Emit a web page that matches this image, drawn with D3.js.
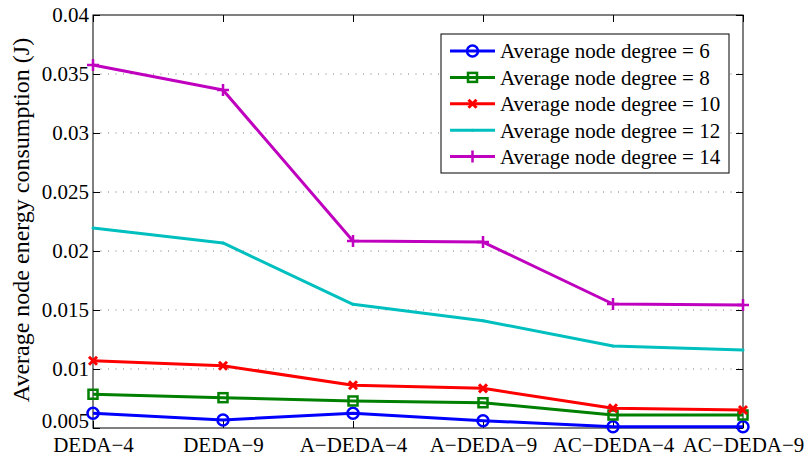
<!DOCTYPE html>
<html>
<head>
<meta charset="utf-8">
<script src="https://cdn.jsdelivr.net/npm/d3@7"></script>
<style>
  body { margin: 0; background: #fff; }
</style>
</head>
<body>
<svg id="chart" width="806" height="457" font-family="Liberation Serif"></svg>
<script>
// 類別與資料
const categories = ["DEDA−4", "DEDA−9", "A−DEDA−4", "A−DEDA−9", "AC−DEDA−4", "AC−DEDA−9"];
const deg6  = [0.00625, 0.00568, 0.00625, 0.00562, 0.00511, 0.00511];
const deg8  = [0.00786, 0.00757, 0.00729, 0.00714, 0.00610, 0.00610];
const deg10 = [0.01070, 0.01028, 0.00862, 0.00836, 0.00667, 0.00653];
const deg12 = [0.02195, 0.02068, 0.01548, 0.01409, 0.01195, 0.01161];
const deg14 = [0.03576, 0.03364, 0.02085, 0.02076, 0.01551, 0.01542];
const yTicks = [0.005, 0.01, 0.015, 0.02, 0.025, 0.03, 0.035, 0.04];
const yTickLabels = ["0.005", "0.01", "0.015", "0.02", "0.025", "0.03", "0.035", "0.04"];

const series = [
  { name: "Average node degree = 6",  values: deg6,  color: "#0000ff", marker: "circle" },
  { name: "Average node degree = 8",  values: deg8,  color: "#008000", marker: "square" },
  { name: "Average node degree = 10", values: deg10, color: "#ff0000", marker: "x" },
  { name: "Average node degree = 12", values: deg12, color: "#00bfbf", marker: "dot" },
  { name: "Average node degree = 14", values: deg14, color: "#bf00bf", marker: "plus" }
];

const svg = d3.select("#chart");
const FONT = "Liberation Serif";
const plotLeft = 93, plotRight = 743, plotTop = 15, plotBottom = 428;

const x = d3.scalePoint().domain(categories).range([plotLeft, plotRight]);
const y = d3.scaleLinear().domain([0.005, 0.04]).range([plotBottom, plotTop]);

// 格線 (虛點)
svg.append("g").selectAll("line")
  .data(yTicks.slice(1, -1))
  .enter().append("line")
  .attr("x1", plotLeft).attr("x2", plotRight)
  .attr("y1", d => y(d)).attr("y2", d => y(d))
  .attr("stroke", "#777").attr("stroke-width", 1)
  .attr("stroke-dasharray", "1,6.5");

// 軸
const gyl = svg.append("g").attr("transform", `translate(${plotLeft},0)`)
  .call(d3.axisLeft(y).tickValues(yTicks).tickSize(-7).tickPadding(4)
    .tickFormat((d, i) => yTickLabels[i]));
const gyr = svg.append("g").attr("transform", `translate(${plotRight},0)`)
  .call(d3.axisRight(y).tickValues(yTicks).tickSize(-7).tickFormat(""));
const gxb = svg.append("g").attr("transform", `translate(0,${plotBottom})`)
  .call(d3.axisBottom(x).tickSize(-7));
const gxt = svg.append("g").attr("transform", `translate(0,${plotTop})`)
  .call(d3.axisTop(x).tickSize(-7).tickFormat(""));

[gyl, gyr, gxb, gxt].forEach(g => {
  g.attr("font-family", FONT).attr("font-size", 21);
  g.select(".domain").remove();
  g.selectAll(".tick line").attr("stroke", "#000").attr("stroke-width", 1);
  g.selectAll("text").attr("fill", "#000");
});
gxb.selectAll("text").attr("y", 24).attr("dy", 0);
// 最下方的 0.005 標籤往上移，避免和 x 標籤重疊
gyl.selectAll(".tick text").filter(d => d === 0.005).attr("dy", 0).attr("y", -1);

// 外框
svg.append("rect")
  .attr("x", plotLeft).attr("y", plotTop)
  .attr("width", plotRight - plotLeft).attr("height", plotBottom - plotTop)
  .attr("fill", "none").attr("stroke", "#000").attr("stroke-width", 1);

// Y 軸標題
svg.append("text")
  .attr("transform", "translate(29,220) rotate(-90)")
  .attr("text-anchor", "middle")
  .attr("font-family", FONT)
  .attr("font-size", 24)
  .text("Average node energy consumption (J)");

// 畫標記
function drawMarker(g, type, color, cx, cy) {
  if (type === "circle") {
    g.append("circle").attr("cx", cx).attr("cy", cy).attr("r", 5.5)
      .attr("fill", "none").attr("stroke", color).attr("stroke-width", 2.5);
  } else if (type === "square") {
    g.append("rect").attr("x", cx - 4.5).attr("y", cy - 4.5).attr("width", 9).attr("height", 9)
      .attr("fill", "none").attr("stroke", color).attr("stroke-width", 2.5);
  } else if (type === "x") {
    const s = 4;
    g.append("path").attr("d", `M${cx - s},${cy - s}L${cx + s},${cy + s}M${cx - s},${cy + s}L${cx + s},${cy - s}`)
      .attr("stroke", color).attr("stroke-width", 3);
  } else if (type === "plus") {
    const s = 6;
    g.append("path").attr("d", `M${cx - s},${cy}L${cx + s},${cy}M${cx},${cy - s}L${cx},${cy + s}`)
      .attr("stroke", color).attr("stroke-width", 2.5);
  } else if (type === "dot") {
    g.append("circle").attr("cx", cx).attr("cy", cy).attr("r", 1.5).attr("fill", color);
  }
}

const line = d3.line().x((d, i) => x(categories[i])).y(d => y(d));

series.forEach(s => {
  const g = svg.append("g");
  g.append("path").datum(s.values)
    .attr("d", line)
    .attr("fill", "none")
    .attr("stroke", s.color)
    .attr("stroke-width", 3)
    .attr("stroke-linejoin", "round");
  s.values.forEach((v, i) => drawMarker(g, s.marker, s.color, x(categories[i]), y(v)));
});

// 圖例
const legend = svg.append("g");
legend.append("rect")
  .attr("x", 441).attr("y", 34).attr("width", 288).attr("height", 139)
  .attr("fill", "#fff").attr("stroke", "#000").attr("stroke-width", 1);
series.forEach((s, i) => {
  const ly = 51 + i * 26.4;
  legend.append("line").attr("x1", 450).attr("x2", 495).attr("y1", ly).attr("y2", ly)
    .attr("stroke", s.color).attr("stroke-width", 3);
  drawMarker(legend, s.marker, s.color, 472.5, ly);
  legend.append("text").attr("x", 500).attr("y", ly).attr("dy", "0.35em")
    .attr("font-family", FONT).attr("font-size", 21).text(s.name);
});
</script>
</body>
</html>
